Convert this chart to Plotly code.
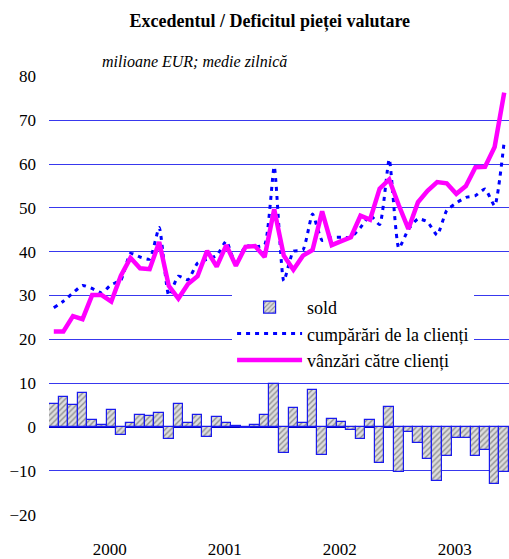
import plotly.graph_objects as go

years = ["2000", "2001", "2002", "2003"]
months = list(range(48))

sold = [5.2, 6.8, 5.0, 7.7, 1.6, 0.4, 3.9, -1.8, 0.8, 2.8, 2.6, 3.1,
        -2.8, 5.2, 1.0, 2.8, -2.3, 2.2, 1.0, 0.3, -0.3, 0.4, 2.7, 9.7,
        -6.0, 4.3, 1.0, 8.4, -6.4, 1.7, 1.2, -0.7, -2.8, 1.6, -8.2, 4.6,
        -10.3, -1.2, -3.7, -7.3, -12.4, -6.7, -2.5, -2.5, -6.7, -5.2, -13.0, -10.2]

cumparari = [27.2, 28.7, 30.6, 32.3, 31.6, 30.6, 32.5, 33.5, 39.6, 38.8, 38.3, 45.5,
             30.0, 34.4, 33.6, 37.4, 38.3, 39.1, 42.4, 37.0, 41.3, 41.1, 41.6, 59.4,
             33.3, 40.1, 40.4, 48.6, 42.6, 43.2, 43.3, 43.3, 45.5, 48.3, 46.2, 61.1,
             40.8, 45.1, 47.5, 46.8, 43.8, 49.4, 51.1, 52.4, 52.8, 54.3, 50.5, 65.2]

vanzari = [21.8, 21.8, 25.3, 24.6, 30.1, 30.1, 28.6, 34.5, 38.6, 36.2, 36.0, 42.2,
           32.2, 29.3, 32.6, 34.4, 40.2, 36.6, 41.5, 36.8, 41.1, 41.3, 38.8, 49.7,
           39.1, 35.9, 39.1, 40.4, 49.2, 41.5, 42.4, 43.3, 48.2, 47.3, 54.4, 56.5,
           50.6, 45.2, 51.3, 53.9, 55.9, 55.6, 53.2, 55.0, 59.3, 59.4, 63.9, 76.3]

year_pos = [5.85, 17.85, 29.85, 41.85]

FONT = "Liberation Serif"

fig = go.Figure()
fig.add_trace(go.Bar(
    x=months, y=sold, name="sold", width=1.0,
    marker=dict(color="#d0d0d0",
                line=dict(color="#1a1aee", width=1.2),
                pattern=dict(shape="/", fgcolor="#444444", bgcolor="#dddddd",
                             size=4, solidity=0.35)),
))
fig.add_trace(go.Scatter(
    x=months, y=cumparari, name="cumpărări de la clienți", mode="lines",
    line=dict(color="#0000ff", width=3, dash="4px,5px", shape="spline", smoothing=0.5),
))
fig.add_trace(go.Scatter(
    x=months, y=vanzari, name="vânzări către clienți", mode="lines",
    line=dict(color="#ff00ff", width=4.5),
))

fig.update_layout(
    width=509, height=559,
    margin=dict(l=49, r=0, t=76, b=40),
    paper_bgcolor="white", plot_bgcolor="white",
    font=dict(family=FONT, size=17, color="black"),
    bargap=0,
    showlegend=True,
    title=dict(text="<b>Excedentul / Deficitul pieței valutare</b>",
               x=0.53, xanchor="center", y=0.963, yanchor="middle",
               font=dict(family=FONT, size=18, color="black")),
    legend=dict(x=0.398, y=0.515, xanchor="left", yanchor="top",
                bgcolor="white", borderwidth=0,
                font=dict(family=FONT, size=18, color="black"),
                itemwidth=65, tracegroupgap=2),
    annotations=[dict(text="<i>milioane EUR; medie zilnică</i>",
                      xref="paper", yref="paper", x=0.111, y=1.032,
                      xanchor="left", yanchor="middle", showarrow=False,
                      font=dict(family=FONT, size=16, color="black"))],
)
fig.update_xaxes(range=[-0.5, 47.5], tickvals=year_pos, ticktext=years,
                 showgrid=False, zeroline=False, showline=False, ticks="",
                 ticklabelstandoff=22, tickfont=dict(family=FONT, size=17))
fig.update_yaxes(range=[-20.1, 80.1], tickvals=list(range(-20, 81, 10)),
                 showgrid=True, gridcolor="#3838ee", gridwidth=1,
                 zeroline=True, zerolinecolor="#0000cc", zerolinewidth=2,
                 showline=False, ticks="", ticklabelstandoff=12,
                 tickfont=dict(family=FONT, size=17))

fig.write_html("out.html", config={"displayModeBar": False},
               post_script="document.body.style.margin='0px';document.body.style.overflow='hidden';")
